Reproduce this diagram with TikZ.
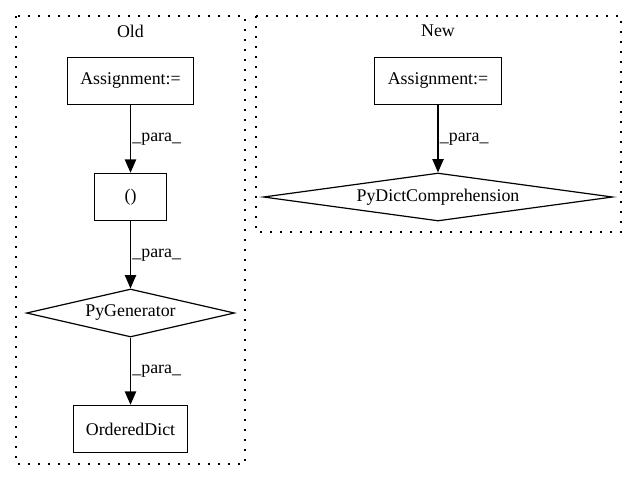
\documentclass[tikz,border=0pt]{standalone}
\usepackage{fontspec}
\setmainfont{Liberation Serif}
\usetikzlibrary{shapes.geometric,arrows.meta}
\begin{document}
\begin{tikzpicture}[x=0.75pt,y=-0.75pt,line width=0.9pt,
  font=\fontsize{13.4}{15}\selectfont,
  box/.style={draw,rectangle,minimum height=35.5pt,inner sep=0pt},
  cond/.style={draw,diamond,minimum height=36pt,inner sep=0pt,aspect=7},
  cluster/.style={dash pattern=on 1.5pt off 6pt},
  flow/.style={-{Triangle[length=10pt,width=8.5pt]}},
  para/.style={anchor=west,inner sep=1pt}]
\useasboundingbox (0,0) rectangle (637,480);
\draw[cluster] (16,16) rectangle (245,464);
\draw[cluster] (256,16) rectangle (621,232);
\node (oldlbl) at (130.5,31) {Old};
\node (newlbl) at (438,31) {New};
\node[box,minimum width=95pt] (oldassign) at (130.5,81) {Assignment:=};
\node[box,minimum width=54pt] (tuple) at (130.5,197) {()};
\node[cond,minimum width=156pt] (gen) at (130.5,313) {PyGenerator};
\node[box,minimum width=85pt] (odict) at (130.5,429) {OrderedDict};
\node[box,minimum width=95pt] (newassign) at (438,81) {Assignment:=};
\node[cond,minimum width=262pt] (dictcomp) at (438,197) {PyDictComprehension};
\draw[flow] (oldassign) -- node[para] {\_para\_} (tuple);
\draw[flow] (tuple) -- node[para] {\_para\_} (gen);
\draw[flow] (gen) -- node[para] {\_para\_} (odict);
\draw[flow] (newassign) -- node[para] {\_para\_} (dictcomp);
\end{tikzpicture}
\end{document}
